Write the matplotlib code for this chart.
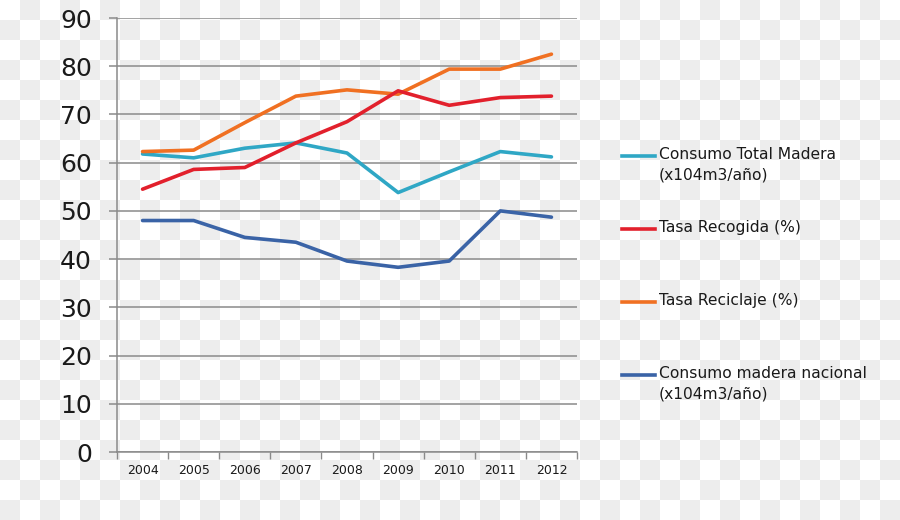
import numpy as np
import matplotlib
matplotlib.use("Agg")
import matplotlib.pyplot as plt
from matplotlib.lines import Line2D

years = ["2004", "2005", "2006", "2007", "2008", "2009", "2010", "2011", "2012"]
consumo_total = [61.8, 61.0, 63.0, 64.1, 62.0, 53.8, 58.1, 62.3, 61.2]
tasa_recogida = [54.5, 58.6, 59.0, 64.1, 68.5, 74.9, 71.9, 73.5, 73.8]
tasa_reciclaje = [62.3, 62.6, 68.3, 73.8, 75.1, 74.2, 79.4, 79.4, 82.5]
consumo_nacional = [48.0, 48.0, 44.5, 43.5, 39.6, 38.3, 39.6, 50.0, 48.7]

labels = ["Consumo Total Madera\n(x104m3/año)", "Tasa Recogida (%)",
          "Tasa Reciclaje (%)", "Consumo madera nacional\n(x104m3/año)"]
colors = ["#2fa7c5", "#e2202c", "#f07022", "#3a63a6"]
series = [consumo_total, tasa_recogida, tasa_reciclaje, consumo_nacional]

plt.rcParams["font.family"] = ["DejaVu Sans"]

fig = plt.figure(figsize=(9, 5.2), dpi=100)

# transparent-looking checker background
h, w = 520, 900
yy, xx = np.mgrid[0:h, 0:w]
board = np.where(((xx // 20) + (yy // 20)) % 2 == 1, 0.93, 1.0)
fig.figimage(np.dstack([board] * 3), xo=0, yo=0, origin="upper", zorder=-10)

ax = fig.add_axes([117 / 900, 68 / 520, 460 / 900, 434 / 520], zorder=5)
ax.patch.set_alpha(0)

x = np.arange(len(years))
# draw order: nacional, total, recogida, reciclaje on top
for i in [3, 0, 2, 1]:
    ax.plot(x, series[i], color=colors[i], lw=2.6, solid_capstyle="round",
            solid_joinstyle="round", zorder=3)

ax.set_xlim(-0.5, len(years) - 0.5)
ax.set_ylim(0, 90)
ax.set_yticks(range(0, 91, 10))
ax.yaxis.grid(True, color="#8a8a8a", lw=1.1)
ax.set_axisbelow(True)

ax.set_xticks(np.arange(-0.5, len(years), 1.0))
ax.set_xticklabels([])
ax.set_xticks(x, minor=True)
ax.set_xticklabels(years, minor=True, fontsize=9, color="#1a1a1a")
ax.tick_params(axis="x", which="major", length=5, color="#8a8a8a", width=1)
ax.tick_params(axis="x", which="minor", length=0, pad=9)
ax.tick_params(axis="y", length=6, color="#8a8a8a", width=1.1, labelsize=18,
               pad=12, labelcolor="#1a1a1a")

for s in ["top", "right"]:
    ax.spines[s].set_visible(False)
for s in ["left", "bottom"]:
    ax.spines[s].set_color("#8a8a8a")
    ax.spines[s].set_linewidth(1.1)

# legend drawn by hand so the handle sits on the first text line
leg_y = [156, 229, 302, 375]
for lab, c, yp in zip(labels, colors, leg_y):
    fy = 1 - yp / 520
    fig.add_artist(Line2D([622 / 900, 655 / 900], [fy, fy], color=c, lw=2.6,
                          transform=fig.transFigure))
    fig.text(659 / 900, fy + 9 / 520, lab, fontsize=11.2, va="top", ha="left",
             color="#1a1a1a", linespacing=1.45)

fig.savefig("out.png", dpi=100)
